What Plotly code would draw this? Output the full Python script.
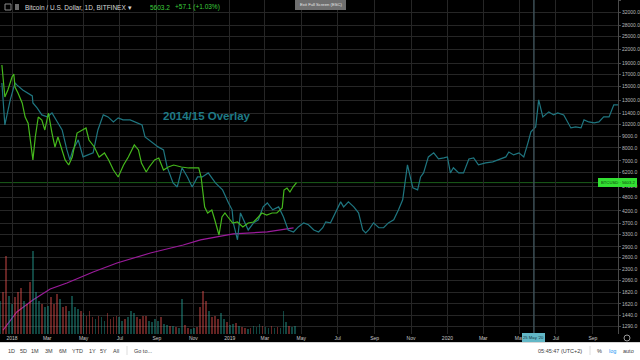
import plotly.graph_objects as go
import pandas as pd

# ---------------- data ----------------
green_dates = ["2017-12-15","2017-12-20","2017-12-25","2018-01-01","2018-01-04","2018-01-06","2018-01-11",
               "2018-01-18","2018-01-23","2018-01-28","2018-02-05","2018-02-09","2018-02-14","2018-02-20",
               "2018-02-25","2018-03-03","2018-03-09","2018-03-14","2018-03-19","2018-03-26","2018-03-31",
               "2018-04-06","2018-04-12","2018-04-20","2018-04-29","2018-05-05","2018-05-10","2018-05-19",
               "2018-05-27","2018-06-05","2018-06-12","2018-06-20","2018-06-28","2018-07-07","2018-07-15",
               "2018-07-25","2018-08-01","2018-08-06","2018-08-14","2018-08-19","2018-08-28","2018-09-04",
               "2018-09-12","2018-09-20","2018-09-29","2018-10-12","2018-10-24","2018-11-10","2018-11-14",
               "2018-11-17","2018-11-20","2018-11-25","2018-12-02","2018-12-07","2018-12-14","2018-12-19",
               "2018-12-24","2018-12-29","2019-01-06","2019-01-14","2019-01-23","2019-02-01","2019-02-10",
               "2019-02-18","2019-02-24","2019-03-04","2019-03-13","2019-03-21","2019-03-30","2019-04-02",
               "2019-04-07","2019-04-12","2019-04-17","2019-04-23"]
green_prices = [18700,13470,14470,16530,17050,14920,14030,
                12670,10970,10300,7070,8940,10970,10640,
                9605,11430,9310,8070,8940,7830,7070,
                6710,7280,9310,9605,9800,8670,8070,
                7280,7590,7070,6375,5935,6710,7280,
                8240,7830,6850,6250,6575,7070,7210,
                6375,6575,6710,6575,6510,6510,5935,
                5040,4365,4105,4233,3820,3276,3940,
                4105,3940,3705,3743,3557,3705,3743,
                3940,4105,4022,4105,4105,4320,5195,
                5300,5090,5355,5603.2]

overlay_dates = ["2017-12-15","2017-12-20","2017-12-29","2018-01-06","2018-01-09","2018-01-19","2018-02-04",
                 "2018-02-05","2018-02-12","2018-02-20","2018-03-01","2018-03-09","2018-03-18","2018-03-26",
                 "2018-04-03","2018-04-08","2018-04-13","2018-04-22","2018-04-30","2018-05-09","2018-05-17",
                 "2018-05-25","2018-06-03","2018-06-11","2018-06-20","2018-06-28","2018-07-06","2018-07-18",
                 "2018-07-30","2018-08-07","2018-08-12","2018-08-24","2018-09-03","2018-09-12","2018-09-18",
                 "2018-09-28","2018-10-05","2018-10-13","2018-10-22","2018-10-30","2018-11-08","2018-11-16",
                 "2018-11-26","2018-12-08","2018-12-20","2018-12-30","2019-01-05","2019-01-07","2019-01-14",
                 "2019-01-19","2019-01-24","2019-02-01","2019-02-10","2019-02-18","2019-02-26","2019-03-05",
                 "2019-03-14","2019-03-24","2019-04-01","2019-04-09","2019-04-18","2019-04-26","2019-05-05",
                 "2019-05-13","2019-05-22","2019-05-30","2019-06-06","2019-06-11","2019-06-19","2019-06-27",
                 "2019-07-06","2019-07-11","2019-07-19","2019-07-28","2019-08-05","2019-08-12","2019-08-17",
                 "2019-08-22","2019-08-30","2019-09-08","2019-09-16","2019-09-24","2019-10-03","2019-10-11",
                 "2019-10-18","2019-10-26","2019-10-31","2019-11-04","2019-11-12","2019-11-17","2019-11-22",
                 "2019-11-30","2019-12-09","2019-12-17","2019-12-26","2020-01-01","2020-01-06","2020-01-11",
                 "2020-01-20","2020-01-28","2020-02-06","2020-02-14","2020-02-22","2020-03-05","2020-03-17",
                 "2020-03-30","2020-04-08","2020-04-13","2020-04-21","2020-04-30","2020-05-08","2020-05-15",
                 "2020-05-20","2020-05-28","2020-06-02","2020-06-09","2020-06-19","2020-06-27","2020-07-04",
                 "2020-07-14","2020-07-26","2020-08-03","2020-08-12","2020-08-17","2020-08-25","2020-09-03",
                 "2020-09-11","2020-09-19","2020-09-28","2020-10-06","2020-10-13"]
overlay_prices = [15550,10120,13070,15550,15240,14480,13620,
                  12670,12040,11210,10980,11440,10430,9610,
                  7830,7070,7830,8680,7290,7440,7600,
                  9610,11210,10980,10430,10870,10650,10650,
                  10330,10120,8950,8420,8080,7830,6580,
                  5590,5360,6520,5940,5360,5940,5940,
                  6190,5590,5200,4550,4240,3710,3120,
                  4110,3830,3450,3710,3830,4370,4550,
                  4240,4370,3950,3450,3380,3560,3710,
                  3640,3450,3380,3530,3750,3710,4110,
                  4600,4370,4600,4370,4110,3450,3350,
                  3450,3710,3530,3530,3710,3830,4240,
                  4700,6720,5940,5310,5200,5940,6190,
                  7290,7600,7140,7220,7290,6190,6520,
                  6190,6190,7140,7220,6720,6860,6930,
                  7140,7290,7670,7440,7600,7290,8420,
                  9420,9910,13070,10980,11560,11210,11440,
                  11210,9810,9910,9810,10650,10430,10330,
                  10430,10980,10980,12420,12420]

ma_dates = ["2017-12-17","2018-01-09","2018-02-05","2018-03-06","2018-04-03","2018-05-17","2018-06-26",
            "2018-08-21","2018-10-15","2018-11-13","2019-01-07","2019-03-05","2019-04-18"]
ma_values = [1238,1489,1684,1885,2004,2244,2460,2725,2958,3118,3315,3383,3524]

vol_start = "2017-12-12"
vol_values = [40,50,93,45,36,44,50,55,40,36,
              62,100,50,40,36,32,34,44,36,48,
              42,32,34,27,46,32,30,27,25,22,
              27,20,18,22,20,16,25,18,20,22,
              20,16,18,20,27,25,20,18,22,21,
              16,14,18,16,20,12,11,10,9,8,
              7,42,11,7,6,7,8,32,52,40,
              27,20,22,18,25,18,14,11,12,13,
              9,8,7,6,7,9,8,12,10,8,
              7,9,7,8,7,28,14,10,8,9]
vol_up = [1,0,0,1,1,0,0,0,1,0,
          0,1,1,1,0,1,1,0,0,0,
          1,0,0,1,1,1,1,0,1,0,
          0,0,1,0,1,1,0,0,0,0,
          1,1,0,1,1,1,0,0,0,0,
          1,1,1,1,0,1,1,0,1,0,
          1,1,0,0,1,1,0,0,0,0,
          1,0,0,0,1,1,0,1,1,0,
          1,0,0,1,0,1,1,1,0,1,
          1,0,1,0,1,1,1,0,1,1]

price_ticks = [36000,32000,28000,25000,22000,19000,17000,15000,13000,11400,10200,9000,8000,7000,
               6200,5400,4800,4200,3700,3300,2900,2600,2300,2060,1820,1620,1440,1290]
month_ticks = ["2018-01-01","2018-03-01","2018-05-01","2018-07-01","2018-09-01","2018-11-01",
               "2019-01-01","2019-03-01","2019-05-01","2019-07-01","2019-09-01","2019-11-01",
               "2020-01-01","2020-03-01","2020-05-01","2020-07-01","2020-09-01"]
month_labels = ["2018","Mar","May","Jul","Sep","Nov","2019","Mar","May","Jul","Sep","Nov",
                "2020","Mar","May","Jul","Sep"]
last_price = 5603.2
crosshair_date = "2020-05-25"

# ---------------- figure ----------------
W, H = 640, 360
PW, PH = 618, 334
def px(x): return x / PW
def py(y): return 1 - y / PH

FONT = "Liberation Sans, Arial, sans-serif"
fig = go.Figure()

vol_dates = pd.date_range(vol_start, periods=len(vol_values), freq="5D")
fig.add_trace(go.Bar(
    x=vol_dates, y=vol_values, yaxis="y2",
    marker=dict(color=["rgba(38,166,154,0.42)" if u else "rgba(239,83,80,0.42)" for u in vol_up],
                line=dict(width=0)),
    width=3 * 86400000, hoverinfo="skip", showlegend=False))

fig.add_trace(go.Scatter(x=ma_dates, y=ma_values, mode="lines",
                         line=dict(color="#9b1b9b", width=1.2), showlegend=False))
fig.add_trace(go.Scatter(x=overlay_dates, y=overlay_prices, mode="lines",
                         line=dict(color="#1f7680", width=1.2), showlegend=False))
fig.add_trace(go.Scatter(x=green_dates, y=green_prices, mode="lines",
                         line=dict(color="#45b81c", width=1.2), showlegend=False))

shapes = []
shapes.append(dict(type="line", xref="paper", yref="y", x0=0, x1=1, y0=last_price, y1=last_price,
                   line=dict(color="#1a5e1a", width=1), layer="below"))
shapes.append(dict(type="line", xref="x", yref="paper", x0=crosshair_date, x1=crosshair_date,
                   y0=0, y1=1, line=dict(color="#3d4f56", width=1.5)))
shapes.append(dict(type="rect", xref="paper", yref="paper", x0=px(598), x1=px(637),
                   y0=py(187), y1=py(178), fillcolor="#33e033", line=dict(width=0), layer="above"))
shapes.append(dict(type="rect", xref="paper", yref="paper", x0=px(522), x1=px(545),
                   y0=py(342), y1=py(333), fillcolor="#62b7c6", line=dict(width=0), layer="above"))
shapes.append(dict(type="rect", xref="paper", yref="paper", x0=px(295), x1=px(346),
                   y0=py(10), y1=py(-1), fillcolor="#6f6f6f", line=dict(width=0), layer="above"))
shapes.append(dict(type="rect", xref="paper", yref="paper", x0=px(-2), x1=px(642),
                   y0=py(362), y1=py(342.5), fillcolor="#ffffff", line=dict(color="#d6d6d6", width=1),
                   layer="above"))
shapes.append(dict(type="line", xref="paper", yref="paper", x0=px(127), x1=px(127),
                   y0=py(346), y1=py(355), line=dict(color="#dddddd", width=1), layer="above"))
shapes.append(dict(type="line", xref="paper", yref="paper", x0=px(590), x1=px(590),
                   y0=py(346), y1=py(355), line=dict(color="#dddddd", width=1), layer="above"))
shapes.append(dict(type="rect", xref="paper", yref="paper", x0=px(5), x1=px(11),
                   y0=py(10), y1=py(4), line=dict(color="#8a8a8a", width=1), layer="above"))
shapes.append(dict(type="rect", xref="paper", yref="paper", x0=px(15), x1=px(19),
                   y0=py(10), y1=py(4), fillcolor="#6a6a6a", line=dict(width=0), layer="above"))
shapes.append(dict(type="circle", xref="paper", yref="paper", x0=px(624), x1=px(630),
                   y0=py(341), y1=py(335), line=dict(color="#9a9a9a", width=1), layer="above"))

ann = []
def text(x, y, s, size, color, xa="left", bold=False):
    ann.append(dict(x=px(x), y=py(y), xref="paper", yref="paper", text=f"<b>{s}</b>" if bold else s,
                    showarrow=False, xanchor=xa, yanchor="middle",
                    font=dict(family=FONT, size=size, color=color)))

text(23, 7, "Bitcoin / U.S. Dollar, 1D, BITFINEX ▾", 6.5, "#d8d8d8")
text(148, 7, "5603.2", 6.5, "#3ccf3c")
text(173, 7, "+57.1 (+1.03%)", 6.5, "#3ccf3c")
text(320.5, 4.5, "Exit Full Screen (ESC)", 4.2, "#e8e8e8", xa="center")
text(207, 116, "2014/15 Overlay", 11.5, "#1f7a86", xa="center", bold=True)
text(617.5, 182.5, "BTCUSD · 5603.2", 4.2, "#0b3d0b", xa="center")
text(533.5, 337.5, "25 May '20", 4.2, "#10313a", xa="center")
for s, xc in [("1D", 12), ("5D", 23), ("1M", 35), ("3M", 49), ("6M", 63), ("YTD", 77),
              ("1Y", 92), ("5Y", 103), ("All", 116), ("Go to...", 143)]:
    text(xc, 350.5, s, 5.5, "#3c3c3c", xa="center")
text(560, 350.5, "05:45:47 (UTC+2)", 5.5, "#3c3c3c", xa="center")
text(599, 350.5, "%", 5.5, "#3c3c3c", xa="center")
text(612, 350.5, "log", 5.5, "#2196f3", xa="center")
text(628, 350.5, "auto", 5.5, "#3c3c3c", xa="center")

fig.update_layout(
    width=W, height=H,
    margin=dict(l=0, r=W - PW, t=0, b=H - PH),
    paper_bgcolor="#000000", plot_bgcolor="#000000",
    showlegend=False, bargap=0,
    shapes=shapes, annotations=ann,
    xaxis=dict(type="date", range=["2017-12-11 20:00", "2020-10-13"],
               tickvals=month_ticks, ticktext=month_labels,
               tickfont=dict(family=FONT, size=5, color="#c8c8c8"),
               showgrid=True, gridcolor="#262626", gridwidth=1, zeroline=False,
               showline=False, ticks="", ticklabelstandoff=0, fixedrange=True),
    yaxis=dict(type="log", range=[3.0751, 4.5607], side="right",
               tickvals=price_ticks, ticktext=[f"{v:.1f}" for v in price_ticks],
               tickfont=dict(family=FONT, size=5, color="#b8b8b8"),
               showgrid=True, gridcolor="#262626", gridwidth=1, zeroline=False,
               showline=True, linecolor="#4a4a4a", ticks="outside", ticklen=2, tickcolor="#4a4a4a"),
    yaxis2=dict(overlaying="y", range=[0, 400], visible=False, fixedrange=True),
)

fig.write_html("out.html", config={"displayModeBar": False},
               post_script="document.body.style.margin='0';document.body.style.overflow='hidden';")
